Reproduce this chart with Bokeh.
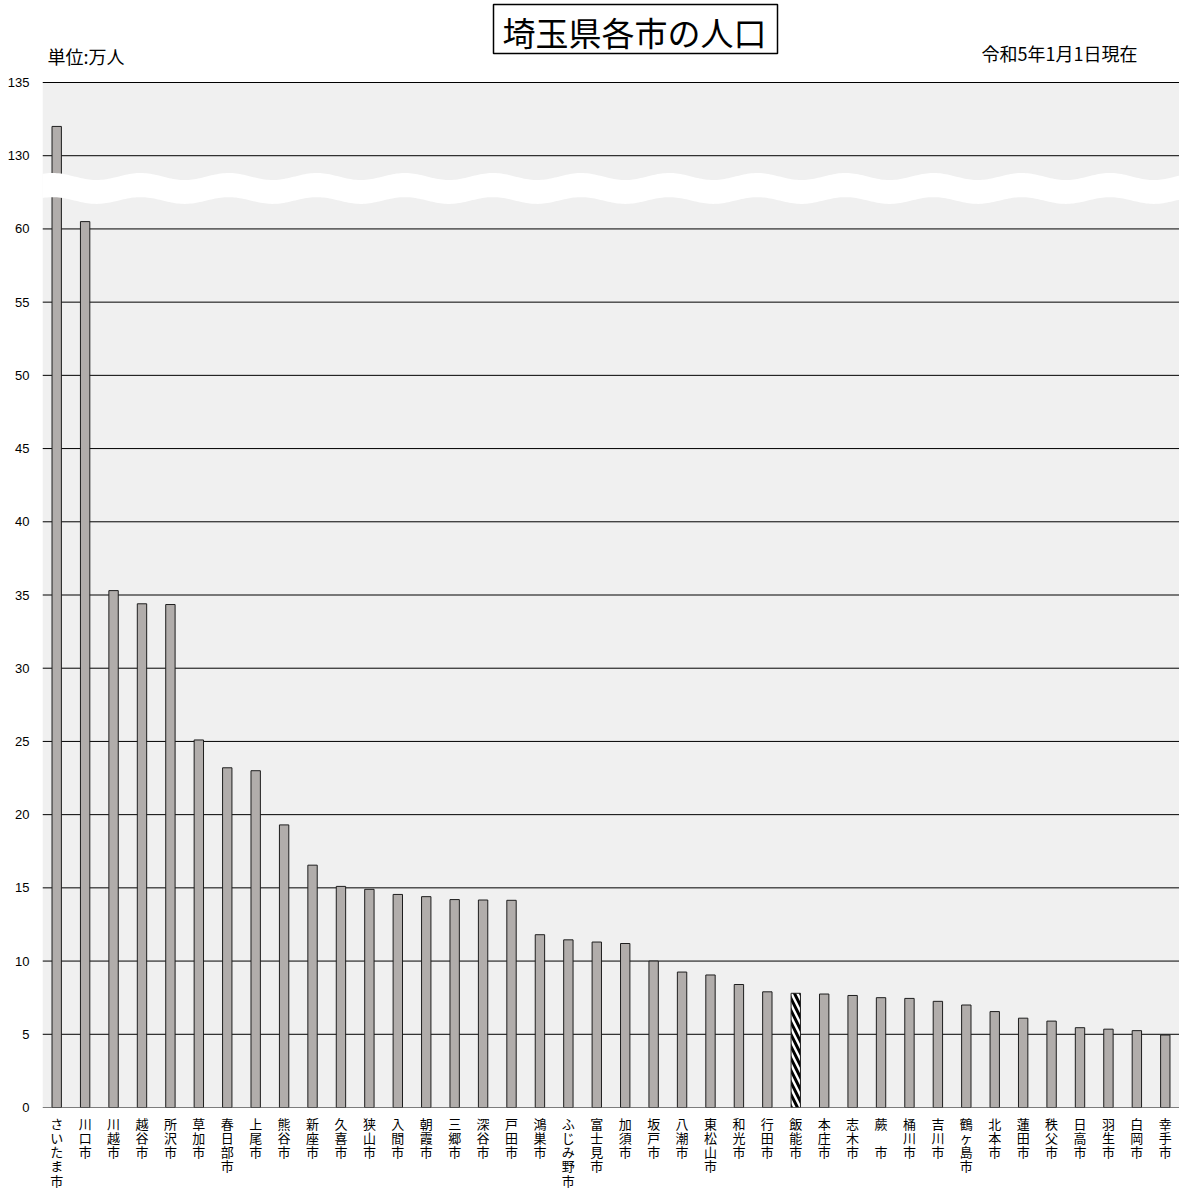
import numpy as np
from bokeh.plotting import figure
from bokeh.models import ColumnDataSource, FixedTicker, Range1d, BoxAnnotation, Span
from bokeh.core.properties import value
from bokeh.embed import file_html
from bokeh.resources import INLINE

# ---- data (万人, 令和5年1月1日現在) ----
cities = ["さいたま市", "川口市", "川越市", "越谷市", "所沢市", "草加市", "春日部市", "上尾市",
          "熊谷市", "新座市", "久喜市", "狭山市", "入間市", "朝霞市", "三郷市", "深谷市",
          "戸田市", "鴻巣市", "ふじみ野市", "富士見市", "加須市", "坂戸市", "八潮市", "東松山市",
          "和光市", "行田市", "飯能市", "本庄市", "志木市", "蕨　市", "桶川市", "吉川市",
          "鶴ヶ島市", "北本市", "蓮田市", "秩父市", "日高市", "羽生市", "白岡市", "幸手市"]
population = [132.0, 60.5, 35.3, 34.4, 34.35, 25.1, 23.2, 23.0,
              19.3, 16.55, 15.1, 14.9, 14.55, 14.4, 14.2, 14.17,
              14.15, 11.8, 11.45, 11.3, 11.2, 10.0, 9.25, 9.05,
              8.4, 7.9, 7.8, 7.75, 7.65, 7.5, 7.45, 7.25,
              7.0, 6.55, 6.1, 5.9, 5.45, 5.35, 5.25, 4.95]
highlight_city = "飯能市"
y_tick_values = [0, 5, 10, 15, 20, 25, 30, 35, 40, 45, 50, 55, 60, 130, 135]
title_text = "埼玉県各市の人口"
unit_text = "単位:万人"
date_text = "令和5年1月1日現在"

# broken axis: values from 125 upward are shifted down by 65 (130 -> 65)
BREAK_RESUME = 125
BREAK_SHIFT = 65


def to_display(v):
    return v if v < BREAK_RESUME else v - BREAK_SHIFT


n = len(cities)
FIG_W, FIG_H = 1179, 1193
LEFT, BOTTOM = 42, 86
frame_w = FIG_W - LEFT
frame_h = FIG_H - BOTTOM
Y0_PAGE = frame_h                # page y of value 0
PX_PER_UNIT = (Y0_PAGE - 82) / 70.0
y_end = frame_h / PX_PER_UNIT
cat_w = frame_w / n


def px(page_x):
    return (page_x - LEFT) / cat_w - 0.5


def py(page_y):
    return (Y0_PAGE - page_y) / PX_PER_UNIT


src = ColumnDataSource(dict(
    x=list(range(n)),
    top=[to_display(v) for v in population],
    fill=["white" if c == highlight_city else "#b1adab" for c in cities],
    hatch=["\\" if c == highlight_city else " " for c in cities],
))

p = figure(width=FIG_W, height=FIG_H, x_range=Range1d(-0.5, n - 0.5), y_range=Range1d(0, y_end),
           output_backend="svg", toolbar_location=None,
           min_border_left=LEFT, min_border_right=0, min_border_top=0, min_border_bottom=BOTTOM)
p.background_fill_color = "white"
p.border_fill_color = "white"
p.outline_line_color = None
p.xgrid.visible = False
p.ygrid.visible = False

# plot area background and grid lines
p.add_layout(BoxAnnotation(bottom=0, top=to_display(135), fill_color="#f0f0f0", fill_alpha=1,
                           line_color=None, level="underlay"))
for t in y_tick_values:
    p.add_layout(Span(location=to_display(t), dimension="width", line_color="black",
                      line_width=1, level="underlay"))

# bars
p.vbar(x="x", top="top", width=0.33, source=src, fill_color="fill", line_color="#1e1e1e",
       line_width=1, hatch_pattern="hatch", hatch_color="black", hatch_weight=3, hatch_scale=12)

# axis break (white wave band)
wx = np.linspace(-0.6, n - 0.4, 600)
phase = 2 * np.pi * (wx - 2.95) / 3.1
top_edge = 63.58 + 0.24 * np.cos(phase)
bot_edge = 61.94 + 0.23 * np.cos(phase)
p.patch(np.concatenate([wx, wx[::-1]]), np.concatenate([top_edge, bot_edge[::-1]]),
        fill_color="white", line_color=None)

# title and notes
p.rect(x=[px(635)], y=[py(28.5)], width=284, height=49, width_units="screen", height_units="screen",
       fill_color="white", line_color="black", line_width=1.5)
p.text(x=[px(634)], y=[py(31)], text=[title_text], text_font=value("Noto Sans CJK JP"),
       text_font_size="33px", text_align="center", text_baseline="middle", text_color="black")
p.text(x=[px(47)], y=[py(55)], text=[unit_text], text_font=value("Noto Sans CJK JP"),
       text_font_size="18px", text_align="left", text_baseline="middle", text_color="black")
p.text(x=[px(1137)], y=[py(52)], text=[date_text], text_font=value("Noto Sans CJK JP"),
       text_font_size="18px", text_align="right", text_baseline="middle", text_color="black")

# x axis: vertical stacked labels
xa = p.xaxis[0]
xa.ticker = FixedTicker(ticks=list(range(n)))
xa.major_label_overrides = {i: "\n".join(name) for i, name in enumerate(cities)}
xa.major_label_text_font = "Noto Sans CJK JP"
xa.major_label_text_font_size = "13px"
xa.major_label_text_line_height = 0.75
xa.major_label_text_color = "black"
xa.axis_line_color = None
xa.major_tick_line_color = None
xa.minor_tick_line_color = None
xa.major_tick_out = 0
xa.major_label_standoff = 6

# y axis with break labels
ya = p.yaxis[0]
ya.ticker = FixedTicker(ticks=[to_display(t) for t in y_tick_values])
ya.major_label_overrides = {to_display(t): str(t) for t in y_tick_values}
ya.major_label_text_font = "Liberation Sans"
ya.major_label_text_font_size = "13px"
ya.major_label_text_color = "black"
ya.axis_line_color = None
ya.major_tick_line_color = None
ya.minor_tick_line_color = None
ya.major_tick_out = 0
ya.major_label_standoff = 13

open("out.html", "w").write(file_html(p, INLINE))
